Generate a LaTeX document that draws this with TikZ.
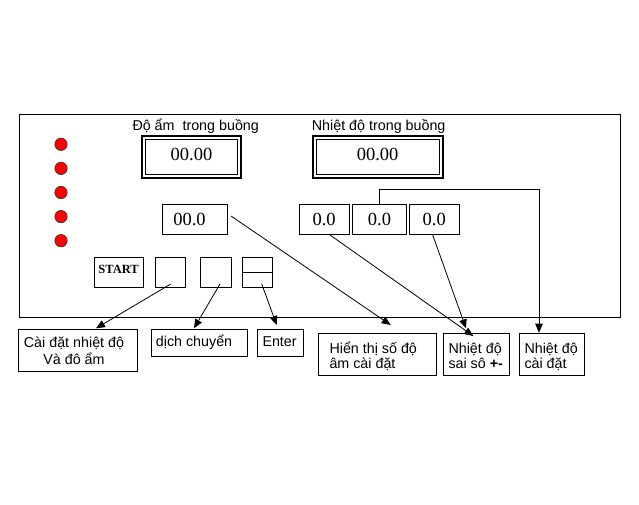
\documentclass[tikz,border=0pt]{standalone}
\usepackage{fontspec}
\setmainfont{Liberation Sans}
\newfontfamily\numfont{Liberation Serif}
\usetikzlibrary{arrows.meta}
\begin{document}
\begin{tikzpicture}[x=1pt,y=-1pt,
  frame/.style={draw, line width=0.9pt, inner sep=0pt, outer sep=0pt},
  lbl/.style={inner sep=0pt, font=\fontsize{14.3}{15}\selectfont},
  num/.style={font=\numfont\fontsize{18.5}{20}\selectfont},
  arr/.style={line width=0.8pt, -{Triangle[length=9pt,width=7.5pt]}},
  led/.style={circle, draw=black!80, line width=0.6pt, fill=red, minimum size=12.4pt, inner sep=0pt}]
\useasboundingbox[fill=white] (0,0) rectangle (639,505);

% panel
\node[frame, minimum width=600.5pt, minimum height=203pt] (panel) at (319.75,216) {};

% LEDs
\foreach \i in {0,...,4} \node[led] (led\i) at (61,{144.3+24.1*\i}) {};

% big displays
\node[frame, line width=2pt, minimum width=98.7pt, minimum height=42.5pt, num, text depth=4.9pt] (hum) at (191.5,157.2) {00.00};
\draw[line width=0.9pt] ([shift={(3.5,3.5)}]hum.north west) rectangle ([shift={(-3.5,-3.5)}]hum.south east);
\node[frame, line width=2pt, minimum width=130pt, minimum height=42.5pt, num, text depth=4.9pt] (temp) at (377.6,157.2) {00.00};
\draw[line width=0.9pt] ([shift={(3.5,3.5)}]temp.north west) rectangle ([shift={(-3.5,-3.5)}]temp.south east);

\node[lbl, anchor=base west] (humlbl) at (132.3,131) {Độ ẩm\ \ trong buồng};
\node[lbl, anchor=base west] (templbl) at (311.7,131) {Nhiệt độ trong buồng};

% small displays
\node[frame, minimum width=65pt, minimum height=30pt, num, align=left, text width=43pt, inner xsep=11pt] (s0) at (194.8,219.3) {00.0};
\node[frame, minimum width=49.7pt, minimum height=30pt, num] (ta) at (324.15,219.3) {0.0};
\node[frame, minimum width=54.4pt, minimum height=30pt, num] (tb) at (379.5,219.3) {0.0};
\node[frame, minimum width=50pt, minimum height=30pt, num] (tc) at (434.3,219.3) {0.0};

% buttons
\node[frame, minimum width=49.3pt, minimum height=30pt, font=\numfont\bfseries\fontsize{12.5}{13}\selectfont, text depth=6.6pt] (start) at (118.65,272.3) {START};
\node[frame, minimum width=30.7pt, minimum height=30pt] (b2) at (170.35,272.3) {};
\node[frame, minimum width=31.7pt, minimum height=30pt] (b3) at (215.85,272.3) {};
\node[frame, minimum width=30pt, minimum height=30pt] (b4) at (257.3,272.3) {};
\draw[line width=0.9pt] (b4.west) -- (b4.east);

% bottom boxes
\node[frame, minimum width=119.4pt, minimum height=41.7pt] (t1) at (78,350.15) {};
\node[frame, minimum width=95.6pt, minimum height=26.7pt] (t2) at (199.5,342.65) {};
\node[frame, minimum width=46pt, minimum height=26.7pt] (t3) at (280.3,342.65) {};
\node[frame, minimum width=118.4pt, minimum height=41.7pt] (t4) at (377.5,354.15) {};
\node[frame, minimum width=65.7pt, minimum height=41.7pt] (t5) at (476.15,354.15) {};
\node[frame, minimum width=65.3pt, minimum height=41.7pt] (t6) at (551.65,354.15) {};

\node[lbl, font=\fontsize{14.3}{16.7}\selectfont, anchor=base] (t1txt) at ([shift={(-4,18.2)}]t1.north) {\begin{tabular}[t]{@{}c@{}}Cài đặt nhiệt độ\\Và đô ẩm\end{tabular}};
\node[lbl, anchor=base west] (t2txt) at ([shift={(4,17.4)}]t2.north west) {dịch chuyển};
\node[lbl, anchor=base west] (t3txt) at ([shift={(5,17.4)}]t3.north west) {Enter};
\node[lbl, anchor=base west] (t4txt) at ([shift={(11,20)}]t4.north west) {\begin{tabular}[t]{@{}l@{}}Hiển thị số độ\\âm cài đặt\end{tabular}};
\node[lbl, font=\fontsize{14.3}{14.5}\selectfont, anchor=base west] (t5txt) at ([shift={(5,20)}]t5.north west) {\begin{tabular}[t]{@{}l@{}}Nhiệt độ\\sai sô \textbf{+-}\end{tabular}};
\node[lbl, font=\fontsize{14.3}{14.5}\selectfont, anchor=base west] (t6txt) at ([shift={(5.3,20)}]t6.north west) {\begin{tabular}[t]{@{}l@{}}Nhiệt độ\\cài đặt\end{tabular}};

% connectors
\draw[arr] ([shift={(0.35,11.7)}]b2.center) -- ([shift={(18,-1)}]t1.north);
\draw[arr] ([shift={(4.15,11.7)}]b3.center) -- ([shift={(-5.5,-1)}]t2.north);
\draw[arr] ([shift={(4.4,11.7)}]b4.center) -- ([shift={(-3.6,-4.3)}]t3.north);
\draw[arr] ([shift={(3.7,-3.3)}]s0.east) -- ([shift={(13.2,-8.3)}]t4.north);
\draw[arr] ([shift={(5.85,0.7)}]ta.south) -- ([shift={(-2.85,2.7)}]t5.north);
\draw[arr] ([shift={(-1.6,0.7)}]tc.south) -- ([shift={(-10.15,-5)}]t5.north);
\draw[arr] (tb.north) -- ++(0,-15) -| ([shift={(-12.65,-0.6)}]t6.north);
\end{tikzpicture}
\end{document}
